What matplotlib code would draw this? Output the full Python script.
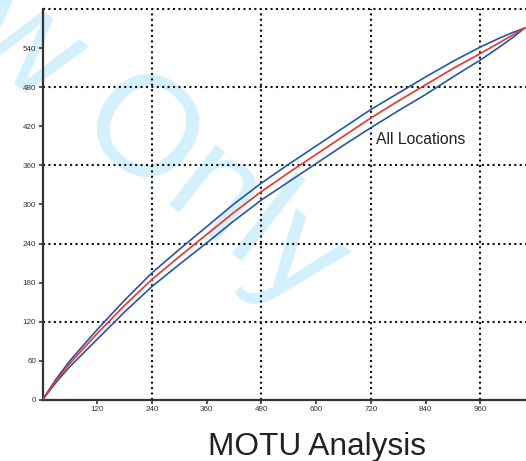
import matplotlib
matplotlib.use("Agg")
import matplotlib.pyplot as plt

plt.rcParams['font.family'] = ['Liberation Sans', 'DejaVu Sans']

sizes = [0, 30, 60, 120, 180, 240, 300, 360, 420, 480, 540, 600, 660, 720,
         780, 840, 900, 960, 1000, 1030, 1057]

# estimated MOTU count, with upper and lower 95% bounds
motus = [0, 30, 56, 102, 145, 185, 220, 254, 288, 320, 349, 377, 405, 433,
         459, 484, 509, 532, 548, 560, 571]
upper = [0, 32, 60, 108, 153, 195, 231, 266, 301, 333, 362, 390, 418, 446,
         471, 496, 520, 542, 555, 564, 571]
lower = [0, 27, 51, 93, 135, 174, 208, 241, 275, 307, 335, 363, 391, 418,
         444, 469, 496, 522, 541, 556, 571]

x_ticks = [120, 240, 360, 480, 600, 720, 840, 960]
y_ticks = [0, 60, 120, 180, 240, 300, 360, 420, 480, 540]
x_grid = [240, 480, 720, 960]
y_grid = [120, 240, 360, 480, 600]

fig = plt.figure(figsize=(5.26, 4.61), dpi=100)
ax = fig.add_axes([0.0808, 0.1328, 0.9192, 0.8472])
ax.patch.set_alpha(0)

# watermark sits behind the axes
fig.text(0.0998, 0.7523, 'View Only', fontsize=103, color='#d4f0fc',
         rotation=-38, rotation_mode='anchor', ha='center', va='baseline', zorder=-1)

dots = (0, (1, 1.6))
for gx in x_grid:
    ax.axvline(gx, color='#111111', lw=1.5, ls=dots, zorder=1)
for gy in y_grid:
    ax.axhline(gy, color='#111111', lw=1.5, ls=dots, zorder=1, clip_on=False)

ax.plot(sizes, upper, color='#2456a6', lw=1.2, zorder=3)
ax.plot(sizes, lower, color='#2456a6', lw=1.2, zorder=3)
ax.plot(sizes, motus, color='#ee3329', lw=1.2, zorder=4)

ax.text(732, 393, 'All Locations', fontsize=11.3, color='#222222', ha='left', va='baseline')

ax.set_xlim(0, 1060)
ax.set_ylim(0, 600)
ax.set_xticks(x_ticks)
ax.set_yticks(y_ticks)
ax.tick_params(length=3, width=1.2, color='#333333', labelsize=5.8,
               labelcolor='#333333', pad=1.5)

for side in ['top', 'right']:
    ax.spines[side].set_visible(False)
for side in ['left', 'bottom']:
    ax.spines[side].set_linewidth(1.6)
    ax.spines[side].set_color('#333333')

fig.text(317 / 526, 1 - 455 / 461, 'MOTU Analysis', fontsize=22.8, color='#222222',
         ha='center', va='baseline')

fig.savefig('out.png', dpi=100)
